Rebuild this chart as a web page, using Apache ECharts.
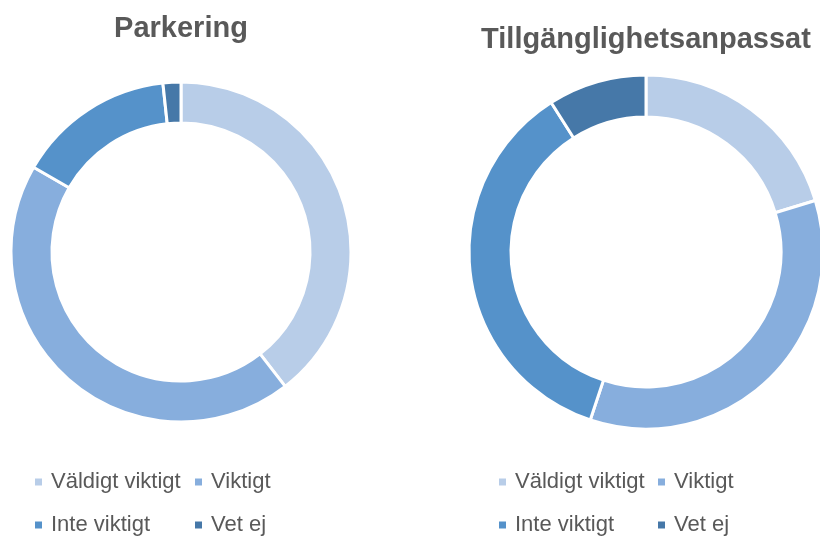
<!DOCTYPE html>
<html>
<head>
<meta charset="utf-8">
<script src="https://cdn.jsdelivr.net/npm/echarts@6/dist/echarts.min.js"></script>
<style>html,body{margin:0;padding:0;background:#fff}#c{width:820px;height:537px}</style>
</head>
<body>
<div id="c"></div>
<script>
const categories = ['Väldigt viktigt', 'Viktigt', 'Inte viktigt', 'Vet ej'];
const parkeringValues = [39.5, 43.8, 15.0, 1.7];
const tillgangValues = [20.3, 34.8, 35.9, 9.0];
const titles = ['Parkering', 'Tillgänglighetsanpassat'];
const colors = ['#B8CDE8', '#87AEDD', '#5592CA', '#4678A8'];

const chart = echarts.init(document.getElementById('c'), null, {renderer: 'canvas'});
const toData = vals => vals.map((v, i) => ({name: categories[i], value: v, itemStyle: {color: colors[i]}}));
const titleStyle = {fontFamily: 'Liberation Sans, Arial, sans-serif', fontSize: 29, fontWeight: 'bold', color: '#595959'};
const legendBase = {
  orient: 'horizontal', icon: 'rect', itemWidth: 9, itemHeight: 9, padding: 0,
  selectedMode: false,
  textStyle: {fontFamily: 'Liberation Sans, Arial, sans-serif', fontSize: 22, color: '#595959', lineHeight: 22, padding: [0, 0, 0, 3]}
};
// legend cell positions: [left, top] per category, for each chart
const legendCols = [[33, 193], [497, 656]];
const legendRows = [471, 514];
const legends = [];
legendCols.forEach(cols => {
  categories.forEach((c, i) => {
    legends.push(Object.assign({}, legendBase, {left: cols[i % 2], top: legendRows[Math.floor(i / 2)], data: [c]}));
  });
});
chart.setOption({
  animation: false,
  color: colors,
  title: [
    {text: titles[0], left: 181, top: 14, textAlign: 'center', padding: 0, textStyle: titleStyle},
    {text: titles[1], left: 646, top: 25, textAlign: 'center', padding: 0, textStyle: titleStyle}
  ],
  legend: legends,
  series: [
    {
      type: 'pie', center: [181, 252], radius: [129, 170], startAngle: 90, clockwise: true,
      label: {show: false}, labelLine: {show: false}, emphasis: {disabled: true},
      itemStyle: {borderColor: '#fff', borderWidth: 3},
      data: toData(parkeringValues)
    },
    {
      type: 'pie', center: [646, 252], radius: [135, 177], startAngle: 90, clockwise: true,
      label: {show: false}, labelLine: {show: false}, emphasis: {disabled: true},
      itemStyle: {borderColor: '#fff', borderWidth: 3},
      data: toData(tillgangValues)
    }
  ]
});
</script>
</body>
</html>
